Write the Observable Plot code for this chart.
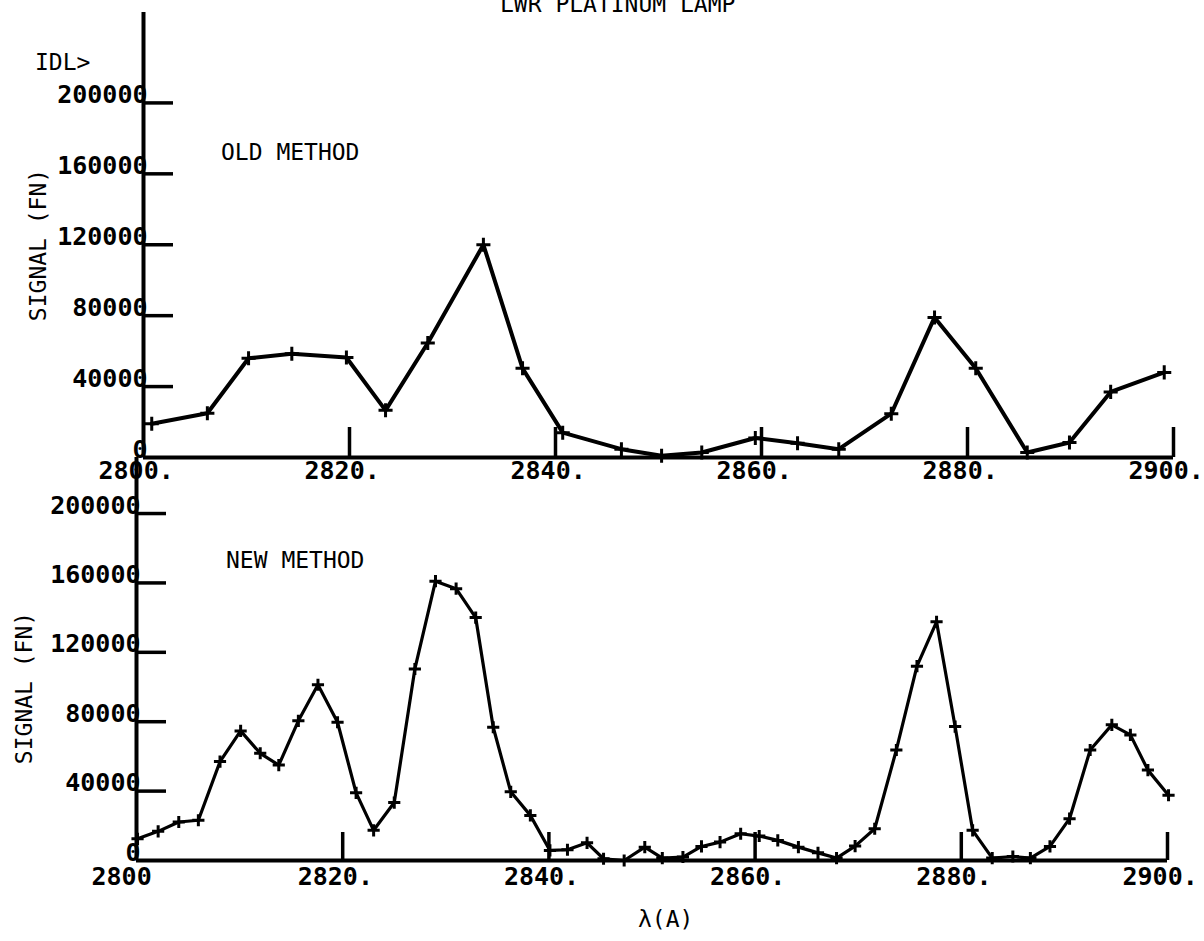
<!DOCTYPE html>
<html><head><meta charset="utf-8">
<script src="https://cdn.jsdelivr.net/npm/d3@7"></script>
<script src="https://cdn.jsdelivr.net/npm/@observablehq/plot@0.6"></script>
<style>
body{margin:0;background:#fff;}
#wrap{position:relative;width:1204px;height:941px;overflow:hidden;background:#fff;font-family:"DejaVu Sans Mono",monospace;color:#000;}
.lbl{position:absolute;font-size:23px;white-space:nowrap;line-height:1;}
.rot{position:absolute;font-size:23px;white-space:nowrap;line-height:1;transform:translate(-50%,-50%) rotate(-90deg);}
.panel{position:absolute;left:0;}
</style></head><body>
<div id="wrap">
  <div class="panel" id="top" style="top:0px"></div>
  <div class="panel" id="bot" style="top:440px"></div>
  <div class="lbl" style="left:500px;top:-7px">LWR PLATINUM LAMP</div>
  <div class="lbl" style="left:35px;top:51px">IDL&gt;</div>
  <div class="lbl" style="left:221px;top:141px">OLD METHOD</div>
  <div class="lbl" style="left:226px;top:549px">NEW METHOD</div>
  <div class="rot" style="left:38px;top:245px">SIGNAL (FN)</div>
  <div class="rot" style="left:24px;top:688px">SIGNAL (FN)</div>
  <div class="lbl" style="left:638px;top:908px">λ(A)</div>
</div>
<script>
// ---- data ----
const oldWave   = [2800.8, 2806.2, 2810.2, 2814.4, 2819.7, 2823.5, 2827.6, 2833.0, 2836.8, 2840.7, 2846.4, 2850.3, 2854.2, 2859.4, 2863.5, 2867.5, 2872.6, 2876.8, 2880.8, 2885.8, 2889.9, 2893.9, 2899.1];
const oldSignal = [19000, 25000, 56000, 58500, 56400, 26600, 64600, 120000, 50300, 14000, 4700, 1000, 2800, 11000, 8000, 4700, 24700, 79000, 50300, 2800, 8500, 37000, 48000];

const newWave   = [2800.1, 2802.1, 2804.1, 2806.0, 2808.1, 2810.1, 2812.0, 2813.8, 2815.7, 2817.6, 2819.5, 2821.3, 2823.0, 2825.0, 2827.0, 2829.0, 2831.0, 2832.9, 2834.6, 2836.3, 2838.2, 2840.1, 2841.8, 2843.7, 2845.3, 2847.3, 2849.3, 2851.0, 2853.0, 2854.8, 2856.6, 2858.6, 2860.4, 2862.2, 2864.2, 2866.1, 2867.9, 2869.7, 2871.6, 2873.7, 2875.7, 2877.6, 2879.4, 2881.1, 2883.0, 2885.0, 2886.7, 2888.6, 2890.5, 2892.5, 2894.6, 2896.4, 2898.1, 2900.1];
const newSignal = [12500, 16800, 22200, 23200, 57000, 74700, 61800, 55000, 80500, 101300, 79700, 39000, 17400, 33400, 110400, 161000, 156700, 140000, 76800, 39600, 26000, 5800, 6200, 10200, 1000, 0, 7700, 1400, 2000, 8100, 10600, 15400, 14100, 11600, 7700, 4400, 1400, 8300, 18300, 63700, 112000, 137600, 77200, 17400, 1400, 2300, 1400, 8100, 24100, 63700, 78200, 72400, 52100, 37600];

const xTicks = [2800, 2820, 2840, 2860, 2880, 2900];
const topXLabels = ["2800.", "2820.", "2840.", "2860.", "2880.", "2900."];
const botXLabels = ["2800", "2820.", "2840.", "2860.", "2880.", "2900."];
const yTicks = [0, 40000, 80000, 120000, 160000, 200000];
const yLabels = ["0", "40000", "80000", "120000", "160000", "200000"];

function panel(o) {
  const data = o.wave.map((w, i) => ({w, s: o.signal[i]}));
  const W = 1204;
  const frameW = W - o.ml - o.mr;
  const frameH = o.height - o.mt - o.mb;
  return Plot.plot({
    width: W, height: o.height,
    marginLeft: o.ml, marginRight: o.mr, marginTop: o.mt, marginBottom: o.mb,
    style: {background: "transparent", color: "#000", fontFamily: "'DejaVu Sans Mono', monospace", fontSize: "25px", overflow: "visible"},
    x: {domain: [2800, 2900], label: null},
    y: {domain: [0, o.yMax], label: null},
    marks: [
      Plot.gridX(xTicks.slice(1), {stroke: "#000", strokeOpacity: 1, strokeWidth: 3.5, insetTop: frameH - o.tick}),
      Plot.gridY(yTicks.slice(1), {stroke: "#000", strokeOpacity: 1, strokeWidth: 3.5, insetRight: frameW - 30}),
      Plot.axisX(xTicks, {tickSize: 0, tickPadding: o.xpad, textAnchor: "start", dx: -45, fontWeight: "bold", label: null,
        tickFormat: d => o.xLabels[xTicks.indexOf(d)]}),
      Plot.axisY(yTicks, {tickSize: 0, tickPadding: -4, lineAnchor: "bottom", fontWeight: "bold", label: null,
        tickFormat: d => yLabels[yTicks.indexOf(d)]}),
      Plot.ruleY([0], {strokeWidth: 4}),
      Plot.ruleX([2800], {strokeWidth: 4}),
      Plot.line(data, {x: "w", y: "s", strokeWidth: o.lw, strokeLinejoin: "round"}),
      Plot.dot(data, {x: "w", y: "s", symbol: "plus", r: o.r, strokeWidth: 3})
    ]
  });
}

document.getElementById("top").append(panel({
  wave: oldWave, signal: oldSignal, xLabels: topXLabels,
  height: 500, ml: 143, mr: 31, mt: 12, mb: 43, yMax: 251000, tick: 30, xpad: 4, lw: 4, r: 4.6
}));
document.getElementById("bot").append(panel({
  wave: newWave, signal: newSignal, xLabels: botXLabels,
  height: 501, ml: 136, mr: 37, mt: 17, mb: 81, yMax: 232300, tick: 28, xpad: 7, lw: 3.2, r: 4
}));
</script>
</body></html>
